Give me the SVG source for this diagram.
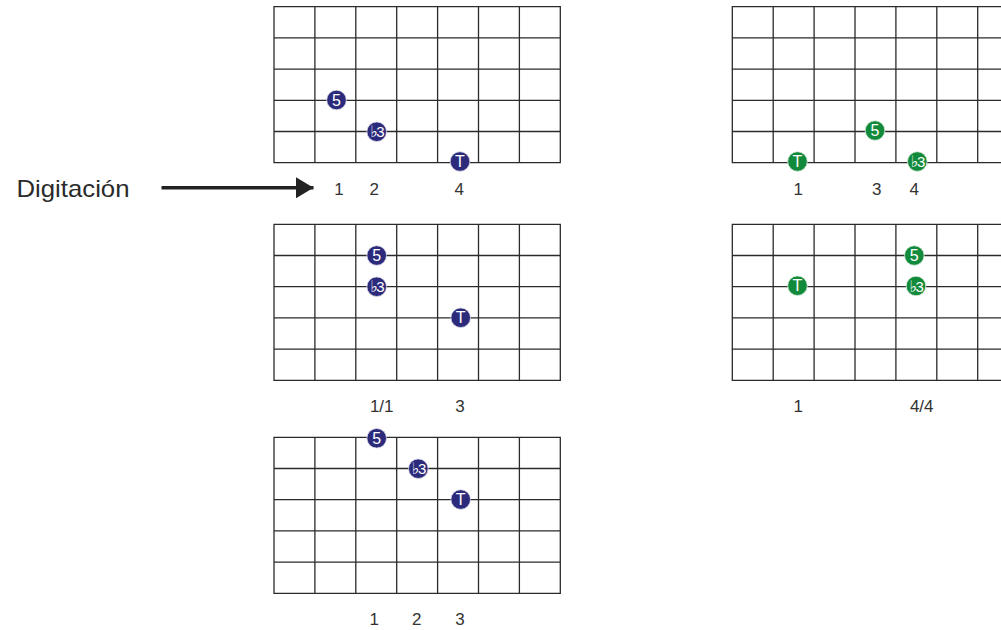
<svg xmlns="http://www.w3.org/2000/svg" width="1001" height="630" viewBox="0 0 1001 630">
<style>
.grid{fill:none;stroke:#2b2b2b;stroke-width:1.3}
.lbl{font-family:"Liberation Sans",Arial,sans-serif;font-size:17px;fill:#333;text-anchor:middle}
.dt{font-family:"Liberation Sans","DejaVu Sans",Arial,sans-serif;font-size:16px;fill:#fff;text-anchor:middle}
.fl{font-size:15px;letter-spacing:-1.5px}
.fs{font-family:"DejaVu Sans",sans-serif;font-size:16px}
.b{fill:#2c2a7b;stroke:#dcdce8;stroke-width:0.8}
.g{fill:#128a3c;stroke:#dcecdc;stroke-width:0.8}
</style>
<defs>
<path id="fb" d="M0,0H286.3V156H0Z M40.9,0V156 M81.8,0V156 M122.7,0V156 M163.6,0V156 M204.5,0V156 M245.4,0V156 M0,31.2H286.3 M0,62.4H286.3 M0,93.6H286.3 M0,124.8H286.3"/>
<marker id="ah" markerWidth="5" markerHeight="6" refX="4.6" refY="2.75" orient="auto" markerUnits="strokeWidth" viewBox="0 0 4.6 5.5">
<path d="M0,0L4.6,2.75L0,5.5Z" fill="#222"/>
</marker>
</defs>
<rect width="1001" height="630" fill="#fff"/>

<g id="label-digitacion">
<text x="16.5" y="196.5" font-family="'Liberation Sans',Arial,sans-serif" font-size="24" fill="#2a2a2a" textLength="113" lengthAdjust="spacingAndGlyphs">Digitación</text>
</g>

<g id="connectors">
<line x1="161.5" y1="187.8" x2="313.5" y2="187.8" stroke="#222" stroke-width="3.5" marker-end="url(#ah)"/>
</g>

<g id="diagram1">
<use href="#fb" class="grid" x="274" y="6.7"/>
<circle class="b" cx="336.5" cy="100" r="9.8"/><text class="dt" x="336.5" y="105.7">5</text>
<circle class="b" cx="376.7" cy="131.7" r="9.8"/><text class="dt fl" x="376.7" y="137.2"><tspan class="fs">♭</tspan>3</text>
<circle class="b" cx="460" cy="161.5" r="9.8"/><text class="dt" x="460" y="167.2">T</text>
<text class="lbl" x="339" y="195">1</text>
<text class="lbl" x="374.3" y="195">2</text>
<text class="lbl" x="459.3" y="195">4</text>
</g>

<g id="diagram2">
<use href="#fb" class="grid" x="274" y="224.3"/>
<circle class="b" cx="376.7" cy="255.5" r="9.8"/><text class="dt" x="376.7" y="261.2">5</text>
<circle class="b" cx="376.7" cy="286.7" r="9.8"/><text class="dt fl" x="376.7" y="292.2"><tspan class="fs">♭</tspan>3</text>
<circle class="b" cx="460.7" cy="317.7" r="9.8"/><text class="dt" x="460.7" y="323.4">T</text>
<text class="lbl" x="381.7" y="411.7">1/1</text>
<text class="lbl" x="460" y="411.7">3</text>
</g>

<g id="diagram3">
<use href="#fb" class="grid" x="274" y="437.3"/>
<circle class="b" cx="376.7" cy="438.3" r="9.8"/><text class="dt" x="376.7" y="444">5</text>
<circle class="b" cx="418.3" cy="468.7" r="9.8"/><text class="dt fl" x="418.3" y="474.2"><tspan class="fs">♭</tspan>3</text>
<circle class="b" cx="460.7" cy="499.5" r="9.8"/><text class="dt" x="460.7" y="505.2">T</text>
<text class="lbl" x="374.3" y="625">1</text>
<text class="lbl" x="416.7" y="625">2</text>
<text class="lbl" x="460" y="625">3</text>
</g>

<g id="diagram4">
<use href="#fb" class="grid" x="732.3" y="6.7"/>
<circle class="g" cx="797.5" cy="161.5" r="9.8"/><text class="dt" x="797.5" y="167.2">T</text>
<circle class="g" cx="875" cy="130.5" r="9.8"/><text class="dt" x="875" y="136.2">5</text>
<circle class="g" cx="917.3" cy="161.5" r="9.8"/><text class="dt fl" x="917.3" y="167"><tspan class="fs">♭</tspan>3</text>
<text class="lbl" x="798.3" y="195">1</text>
<text class="lbl" x="876.7" y="195">3</text>
<text class="lbl" x="914.3" y="195">4</text>
</g>

<g id="diagram5">
<use href="#fb" class="grid" x="732.3" y="224.3"/>
<circle class="g" cx="797.5" cy="285.7" r="9.8"/><text class="dt" x="797.5" y="291.4">T</text>
<circle class="g" cx="914.3" cy="255.5" r="9.8"/><text class="dt" x="914.3" y="261.2">5</text>
<circle class="g" cx="916" cy="286" r="9.8"/><text class="dt fl" x="916" y="291.5"><tspan class="fs">♭</tspan>3</text>
<text class="lbl" x="798.3" y="411.7">1</text>
<text class="lbl" x="921.7" y="411.7">4/4</text>
</g>
</svg>
